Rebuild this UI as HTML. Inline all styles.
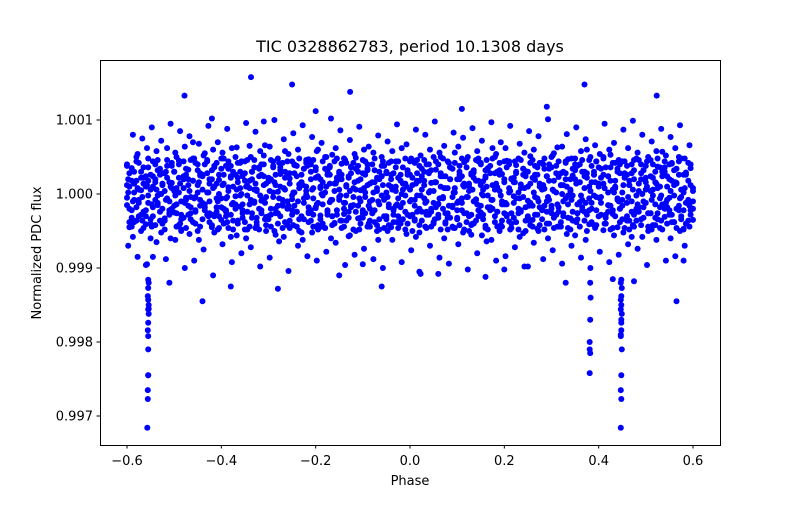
<!DOCTYPE html>
<html><head><meta charset="utf-8"><style>
body{margin:0;background:#fff}
svg text{font-family:"DejaVu Sans","Liberation Sans",sans-serif;fill:#000}
</style></head><body>
<svg id="chart" width="800" height="500" viewBox="0 0 800 500" xmlns="http://www.w3.org/2000/svg">
<rect width="800" height="500" fill="#fff"/>
<text x="410" y="52" font-size="16" text-anchor="middle">TIC 0328862783, period 10.1308 days</text>
<g id="points"></g>
<rect x="100.5" y="60.5" width="620" height="385" fill="none" stroke="#000" stroke-width="1"/>
<g id="xticks"></g>
<g id="yticks"></g>
<text x="410" y="485" font-size="13" text-anchor="middle">Phase</text>
<text x="0" y="0" font-size="13" text-anchor="middle" transform="translate(41,253) rotate(-90)">Normalized PDC flux</text>
</svg>
<script>
// phase in thousandths, flux deviation in units of 1e-5
const phaseA=[-600,-595,-590,-585,-580,-575,-570,-565,-560,-555,-550,-545,-540,-535,-530,-525,-520,-515,-510,-505,-500,-495,-490,-485,-480,-475,-470,-465,-460,-455,-450,-445,-440,-435,-430,-425,-420,-415,-410,-405,-400,-395,-390,-385,-380,-375,-370,-365,-360,-355,-350,-345,-340,-335,-330,-325,-320,-315,-310,-305,-300,-295,-290,-285,-280,-275,-270,-265,-260,-255,-250,-245,-240,-235,-230,-225,-220,-215,-210,-205,-200,-195,-190,-185,-180,-175,-170,-165,-160,-155,-150,-145,-140,-135,-130,-125,-120,-115,-110,-105,-100,-95,-90,-85,-80,-75,-70,-65,-60,-55,-50,-45,-40,-35,-30,-25,-20,-15,-10,-5,0,5,10,15,20,25,30,35,40,45,50,55,60,65,70,75,80,85,90,95,100,105,110,115,120,125,130,135,140,145,150,155,160,165,170,175,180,185,190,195,200,205,210,215,220,225,230,235,240,245,250,255,260,265,270,275,280,285,290,295,300,305,310,315,320,325,330,335,340,345,350,355,360,365,370,375,380,385,390,395,400,405,410,415,420,425,430,435,440,445,450,455,460,465,470,475,480,485,490,495,500,505,510,515,520,525,530,535,540,545,550,555,560,565,570,575,580,585,590,595,600];
const devA=[12,-20,35,-8,50,-30,5,22,-41,18,-60,10,40,-15,0,28,-33,62,-10,15,
-25,8,45,-50,20,-5,33,-18,70,-40,2,25,-12,55,-28,14,-45,38,-6,19,
-35,48,-22,9,-58,30,-3,42,-17,24,-48,11,65,-26,6,-38,36,-9,52,-31,
17,-20,44,-55,3,27,-14,58,-42,21,-7,39,-24,13,-52,34,-1,47,-36,8,
-19,60,-29,16,-46,31,-11,53,-39,22,-4,41,-27,10,-57,37,-15,49,-33,5,
-22,26,-44,14,-8,32,-50,20,-2,38,-30,12,-45,28,-16,44,-36,6,-24,30,
-10,46,-34,18,-52,24,-6,40,-28,15,-40,33,-13,50,-20,8,-48,36,-4,56,
-32,20,-12,43,-38,11,-55,29,-7,48,-25,17,-43,35,-18,62,-30,9,-50,27,
-14,45,-37,21,-3,39,-26,13,-53,31,-9,51,-35,19,-47,42,-21,7,-40,34,
-16,55,-28,23,-44,12,-6,47,-33,25,-56,38,-11,30,-24,60,-41,16,-2,44,
-30,22,-49,36,-15,53,-27,10,-45,40,-8,28,-36,18,-58,46,-20,14,-34,32,
-12,50,-26,6,-42,37,-18,57,-31,24,-5,41,-38,15,-22,48,-47,29,-10,35,4];
const devA2=[-5,28,-32,14,-18,6,30,-24,10,-2,26,-30,16,-12,34,-20,4,22,-28,8,
30,-14,2,-34,24,-8,12,-26,18,-4,32,-16,6,-22,28,-10,20,-30,14,0,
-18,26,-6,34,-28,10,-14,22,-2,-32,18,-24,8,30,-12,4,-20,26,-8,14,
-30,20,-4,12,-26,32,-16,6,-10,28,-22,2,24,-34,16,-6,10,-18,30,-28,
22,-12,8,-2,34,-24,14,-30,4,18,-8,26,-20,12,-32,28,-4,6,-16,20,
-26,2,32,-10,16,-22,8,-34,24,-6,30,-14,10,-28,4,22,-18,14,-2,26,
-30,12,-8,28,-20,6,18,-24,2,32,-12,16,-28,10,-4,24,-32,20,-16,8,
-22,30,-6,14,-26,4,26,-10,18,-30,12,-2,22,-18,28,-8,6,-24,32,-14,
16,-28,2,20,-12,30,-20,8,-4,24,-32,14,-16,26,-6,10,-22,34,-10,18,
-26,4,28,-18,12,-30,20,-2,6,-24,32,-14,16,-8,24,-28,10,-20,30,-4,
14,-12,26,-32,2,18,-22,8,-6,28,-16,22,-30,12,-10,32,-24,4,20,-18,
6,-26,24,-2,16,-34,10,-14,30,-8,20,-28,12,-20,26,-4,2,-12,18,-22,8];
const devA3=[40,-45,18,-38,44,-12,-50,36,-22,48,-40,24,-8,46,-36,14,-48,38,-26,42,
-16,50,-42,-28,44,-46,20,-34,48,-24,40,-44,26,-18,46,-38,32,-52,42,-30,
48,-20,38,-46,24,-36,50,-40,30,-14,44,-48,18,-32,46,-42,34,-26,40,-50,
22,-44,36,-20,48,-30,42,-38,28,-46,44,-16,38,-50,26,-34,46,-24,40,-44,
32,-48,20,-40,50,-28,36,-42,44,-22,30,-46,48,-36,24,-18,42,-50,38,-32,
46,-26,34,-44,40,-38,22,-48,50,-30,28,-42,44,-20,36,-46,18,-34,48,-40,
26,-50,42,-24,38,-36,46,-28,30,-44,50,-18,40,-48,24,-38,44,-32,34,-46,
20,-42,48,-26,36,-50,28,-40,46,-22,42,-34,32,-48,38,-20,50,-44,26,-36,
44,-30,40,-46,22,-38,48,-24,34,-50,30,-42,46,-28,36,-18,42,-48,24,-40,
50,-32,38,-44,28,-26,44,-46,20,-36,48,-34,40,-22,30,-50,46,-38,26,-42,
36,-28,50,-40,24,-48,42,-30,34,-20,44,-46,38,-36,28,-44,48,-24,40,-32,
22,-50,46,-42,30,-26,36,-48,44,-18,40,-38,32,-46,50,-34,26,-40,42,-28,-35];
const devA4=[-15,10,-22,2,18,-8,-28,14,24,-12,6,-18,20,-2,-24,12,28,-6,16,-20,
4,-26,22,-10,8,26,-16,-4,18,-22,12,-8,24,-14,2,20,-28,10,-18,26,
-6,14,-24,4,22,-12,-20,16,8,-26,28,-2,-14,20,-10,6,24,-22,12,-4,
18,-28,2,26,-16,10,-8,22,-20,14,-2,28,-24,8,16,-12,4,-26,20,-6,
-18,24,10,-14,2,-22,26,-8,14,-28,6,20,-12,-2,22,-16,8,-24,18,-10,
28,-4,12,-20,-26,16,4,-14,24,-8,2,-18,20,-22,10,-6,26,-12,14,-28,
6,22,-16,-2,18,-24,12,-10,28,-20,4,16,-14,24,-6,-26,8,20,-18,2,
-12,26,-22,10,-4,14,-28,22,-8,18,-16,6,24,-2,-20,12,28,-24,4,-10,
20,-14,8,-26,16,-6,2,-22,26,-18,10,-12,22,-4,-28,14,6,-16,24,-8,
-20,18,2,-24,12,-10,28,-14,4,-2,20,-26,16,-18,8,22,-6,-12,26,-22,
10,-4,14,-28,24,-16,6,18,-8,-20,2,26,-12,12,-24,20,-2,-18,28,-10,
16,-26,4,22,-14,8,-6,24,-20,10,-28,18,-2,14,-16,6,-22,26,-8,12,-10];
const devA5=[38,-38,-44,30,-36,42,22,-46,-30,36,-34,44,-42,32,26,-40,-36,46,-22,38,
30,-44,40,-48,-32,34,-28,46,-38,42,-50,28,-34,40,44,-26,-42,36,-24,-46,
34,-40,-30,44,38,-48,26,-36,42,-22,-38,46,-44,30,36,-32,-48,40,24,-42,
-34,46,38,-26,-40,36,-46,30,44,-36,-28,40,-44,48,-30,34,42,-38,-22,46,
36,-42,-34,44,-46,26,38,-30,-40,48,28,-36,-44,42,-24,36,-48,34,30,-40,
-32,44,40,-36,-26,48,-42,30,38,-46,-34,42,26,-38,44,-30,-40,36,-48,32,
44,-28,-36,46,-42,34,30,-46,40,-24,-38,44,-32,28,48,-40,-26,36,-44,42,
-34,38,24,-48,46,-30,-42,32,-36,44,40,-28,-46,34,-22,48,-38,30,42,-44,
-26,36,44,-40,-32,28,-48,46,34,-36,-30,42,-44,38,26,-42,-34,48,-24,40,
36,-46,-28,44,-38,30,42,-32,-48,34,40,-26,-44,46,-36,28,-22,38,-42,44,
-30,34,48,-40,-24,36,-46,42,30,-38,-34,44,26,-48,40,-28,-36,46,-42,32,
38,-44,-26,40,-32,48,-46,30,36,-40,-22,42,-38,34,44,-30,-48,28,-36,40,-20];
const phaseB=[-597.5,-587.5,-577.5,-567.5,-557.5,-547.5,-537.5,-527.5,-517.5,-507.5,-497.5,-487.5,-477.5,-467.5,-457.5,-447.5,-437.5,-427.5,-417.5,-407.5,-397.5,-387.5,-377.5,-367.5,-357.5,-347.5,-337.5,-327.5,-317.5,-307.5,-297.5,-287.5,-277.5,-267.5,-257.5,-247.5,-237.5,-227.5,-217.5,-207.5,-197.5,-187.5,-177.5,-167.5,-157.5,-147.5,-137.5,-127.5,-117.5,-107.5,-97.5,-87.5,-77.5,-67.5,-57.5,-47.5,-37.5,-27.5,-17.5,-7.5,2.5,12.5,22.5,32.5,42.5,52.5,62.5,72.5,82.5,92.5,102.5,112.5,122.5,132.5,142.5,152.5,162.5,172.5,182.5,192.5,202.5,212.5,222.5,232.5,242.5,252.5,262.5,272.5,282.5,292.5,302.5,312.5,322.5,332.5,342.5,352.5,362.5,372.5,382.5,392.5,402.5,412.5,422.5,432.5,442.5,452.5,462.5,472.5,482.5,492.5,502.5,512.5,522.5,532.5,542.5,552.5,562.5,572.5,582.5,592.5];
const devB=[-70,80,-85,75,-95,90,-65,72,-88,95,-62,85,-100,78,-90,68,-75,92,-110,70,
-68,88,-92,63,-80,96,-72,84,-98,66,-86,100,-64,74,-104,82,-70,93,-84,77,
-90,69,-78,102,-66,86,-96,73,-82,91,-74,64,-88,79,-100,71,-62,94,-92,67,
-76,87,-108,80,-70,98,-86,65,-94,83,-68,76,-102,89,-80,72,-64,97,-90,70,
-84,92,-72,68,-98,85,-66,78,-88,101,-76,63,-94,81,-70,90,-86,74,-100,66,
-78,95,-92,69,-82,87,-68,99,-74,80,-96,71,-62,88,-90,77,-84,93,-70,66];
const devB2=[20,-58,54,-36,62,-44,58,-52,30,-60,56,-40,64,-54,48,-62,52,-30,60,-48,
56,-38,62,-56,44,-60,50,-46,58,-34,64,-50,42,-58,54,-42,60,-62,38,-52,
58,-44,50,-60,62,-36,46,-56,54,-48,60,-40,56,-62,44,-50,58,-38,62,-54,
48,-58,52,-44,60,-34,56,-60,42,-46,64,-52,50,-40,58,-56,46,-62,54,-42,
62,-48,44,-58,56,-36,60,-50,40,-60,52,-44,64,-54,48,-38,58,-62,50,-46,
54,-40,60,-56,46,-52,62,-42,56,-58,44,-48,58,-36,52,-60,62,-50,48,-44];
const devB3=[2,-10,8,-4,12,-14,6,0,-8,10,-2,14,-12,4,-6,16,-16,2,8,-10,
12,-4,-14,6,0,10,-8,14,-2,-12,4,16,-6,8,-16,2,-10,12,-4,6,
-14,0,10,-8,14,-2,-12,4,16,-6,8,-16,2,-10,12,-4,6,-14,0,10,
-8,14,-2,-12,4,16,-6,8,-16,2,-10,12,-4,6,-14,0,10,-8,14,-2,
-12,4,16,-6,8,-16,2,-10,12,-4,6,-14,0,10,-8,14,-2,-12,4,16,
-6,8,-16,2,-10,12,-4,6,-14,0,10,-8,14,-2,-12,4,16,-6,8,-16];
// outliers and eclipse points (phase thousandths, flux deviation 1e-5)
const phaseC=[-337,-250,370,-478,-127,523,-200,290,-560,-545,-440,-280,-150,-60,60,160,250,330,475,565,-510,-380,-100,20,200,430,580,-420,110,-310];
const devC=[158,148,148,133,138,133,112,118,-96,-85,-145,-128,-110,-125,-108,-112,-98,-120,-118,-145,-120,-125,-95,-105,-102,-115,-90,102,115,98];
const phaseD=[-557,-556,-556,-555,-555,-555,-556,-555,-554,-555,-554,-555,-556,-555,-554,-555,-555,-554,447,448,447,448,449,447,448,448,449,447,448,447,448,449,447,448,447,448,381,382,381,381,382,383,382];
const devD=[-316,-277,-265,-245,-210,-192,-184,-174,-162,-156,-150,-143,-138,-127,-120,-116,-245,-155,-316,-277,-265,-245,-210,-192,-184,-174,-162,-156,-150,-143,-138,-127,-120,-116,-190,-170,-242,-215,-210,-200,-170,-140,-120];

const xs=v=>410+v*471.67;          // phase -> px
const ys=v=>194-(v-1)*74000;       // flux -> px
const NS="http://www.w3.org/2000/svg";
const g=document.getElementById('points');
function plot(ph,dv){
  const n=Math.min(ph.length,dv.length);
  for(let i=0;i<n;i++){
    const c=document.createElementNS(NS,'circle');
    c.setAttribute('cx',xs(ph[i]/1000).toFixed(1));
    c.setAttribute('cy',ys(1+dv[i]*1e-5).toFixed(1));
    c.setAttribute('r','3');
    c.setAttribute('fill','#0000ff');
    
    
    g.appendChild(c);
  }
}
plot(phaseA,devA);plot(phaseA,devA2);plot(phaseA,devA3);plot(phaseA,devA4);plot(phaseA,devA5);
plot(phaseB,devB);plot(phaseB,devB2);plot(phaseB,devB3);plot(phaseC,devC);plot(phaseD,devD);

const xTicks=[-0.6,-0.4,-0.2,0.0,0.2,0.4,0.6];
const xLabels=["\u22120.6","\u22120.4","\u22120.2","0.0","0.2","0.4","0.6"];
const yTicks=[0.997,0.998,0.999,1.000,1.001];
const yLabels=["0.997","0.998","0.999","1.000","1.001"];
const gx=document.getElementById('xticks'),gy=document.getElementById('yticks');
xTicks.forEach((t,i)=>{
  const x=xs(t);
  const l=document.createElementNS(NS,'line');
  l.setAttribute('x1',x);l.setAttribute('x2',x);l.setAttribute('y1',445);l.setAttribute('y2',448.5);l.setAttribute('stroke','#000');
  
  
  gx.appendChild(l);
  const tx=document.createElementNS(NS,'text');
  tx.setAttribute('x',x);tx.setAttribute('y',465);tx.setAttribute('font-size','13');tx.setAttribute('text-anchor','middle');
  tx.textContent=xLabels[i];
  
  
  gx.appendChild(tx);
});
yTicks.forEach((t,i)=>{
  const y=ys(t);
  const l=document.createElementNS(NS,'line');
  l.setAttribute('x1',96.5);l.setAttribute('x2',100);l.setAttribute('y1',y);l.setAttribute('y2',y);l.setAttribute('stroke','#000');
  
  
  gy.appendChild(l);
  const tx=document.createElementNS(NS,'text');
  tx.setAttribute('x',93);tx.setAttribute('y',y+4.5);tx.setAttribute('font-size','13');tx.setAttribute('text-anchor','end');
  tx.textContent=yLabels[i];
  
  
  gy.appendChild(tx);
});
</script>
</body></html>
